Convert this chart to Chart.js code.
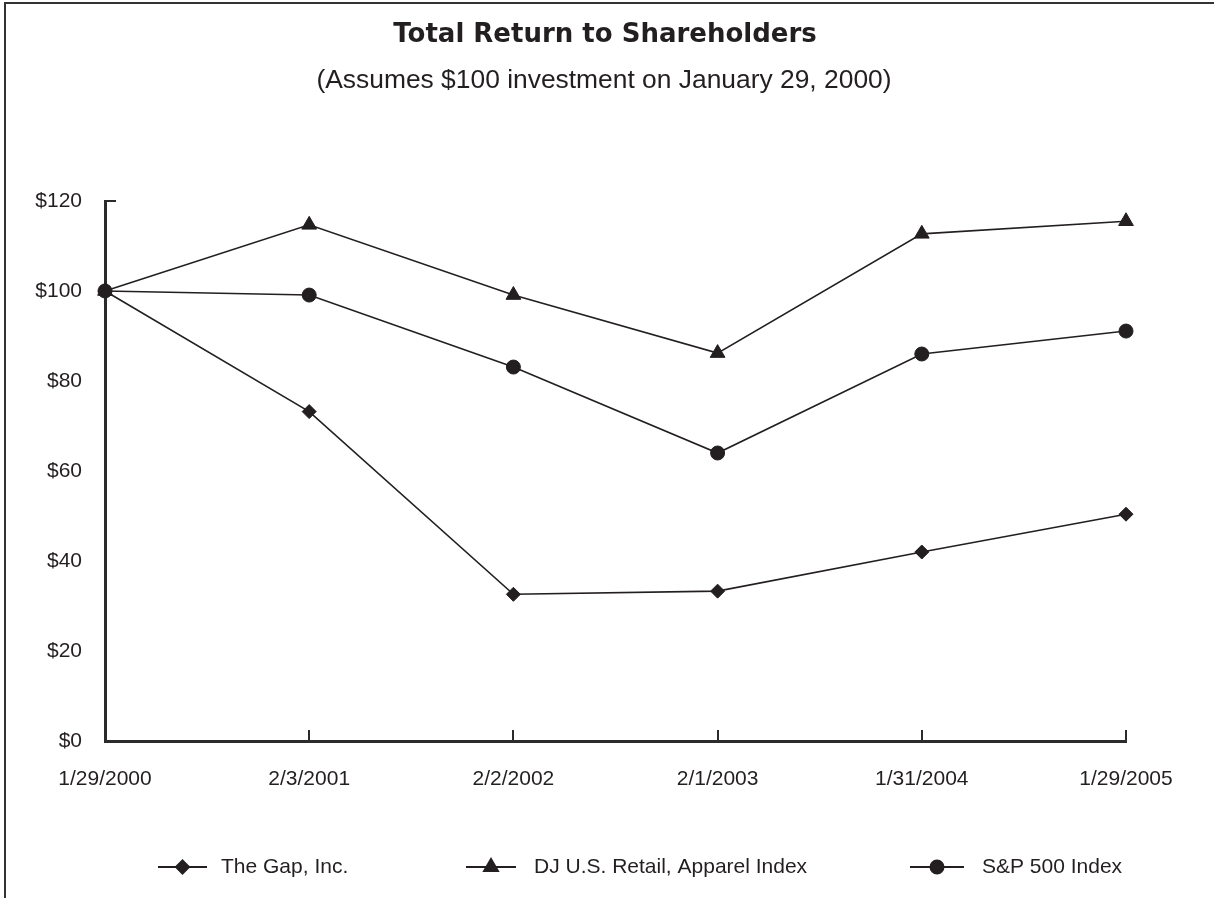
<!DOCTYPE html>
<html>
<head>
<meta charset="utf-8">
<script src="https://cdn.jsdelivr.net/npm/chart.js@4.4.0/dist/chart.umd.min.js"></script>
<style>
    html, body { margin: 0; padding: 0; background: #fff; }
    #wrap { position: relative; width: 1214px; height: 898px; }
</style>
</head>
<body>
<div id="wrap"><canvas id="returnChart" width="1214" height="898"></canvas></div>
<script>
// data
const dates = ["1/29/2000", "2/3/2001", "2/2/2002", "2/1/2003", "1/31/2004", "1/29/2005"];
const gapValues = [100, 73.2, 32.6, 33.3, 42.0, 50.4];
const djRetailValues = [100, 114.7, 99.1, 86.2, 112.7, 115.5];
const sp500Values = [100, 99.1, 83.1, 64.0, 86.0, 91.1];
const seriesNames = ["The Gap, Inc.", "DJ U.S. Retail, Apparel Index", "S&P 500 Index"];
const yTickStep = 20;
const yMax = 120;

const INK = "#231f20";
const AXIS = "#2b2b2b";
const FONT = "'Liberation Sans', Arial, sans-serif";

const series = [
    { label: seriesNames[0], data: gapValues,      pointStyle: "rectRot",  pointRadius: 7 },
    { label: seriesNames[1], data: djRetailValues, pointStyle: "triangle", pointRadius: 8.5 },
    { label: seriesNames[2], data: sp500Values,    pointStyle: "circle",   pointRadius: 7 }
];

// frame, titles, inward ticks, legend
const decorPlugin = {
    id: "decor",
    beforeDraw(chart) {
        const ctx = chart.ctx;
        ctx.save();
        ctx.fillStyle = "#fff";
        ctx.fillRect(0, 0, chart.width, chart.height);
        ctx.strokeStyle = "#333";
        ctx.lineWidth = 2;
        ctx.beginPath();
        ctx.moveTo(5, chart.height);
        ctx.lineTo(5, 3);
        ctx.lineTo(chart.width, 3);
        ctx.stroke();

        ctx.fillStyle = INK;
        ctx.textAlign = "center";
        ctx.textBaseline = "middle";
        ctx.font = `bold 26px 'DejaVu Sans', sans-serif`;
        ctx.fillText("Total Return to Shareholders", 605, 35);
        ctx.font = `26.4px ${FONT}`;
        ctx.fillText("(Assumes $100 investment on January 29, 2000)", 604, 81);
        ctx.restore();
    },
    afterDraw(chart) {
        const ctx = chart.ctx;
        const x = chart.scales.x, y = chart.scales.y;
        const area = chart.chartArea;
        ctx.save();
        ctx.strokeStyle = AXIS;
        ctx.lineWidth = 2;
        ctx.beginPath();
        for (let i = 1; i < dates.length; i++) {
            const px = Math.round(x.getPixelForTick(i));
            ctx.moveTo(px, area.bottom);
            ctx.lineTo(px, area.bottom - 11);
        }
        const top = y.getPixelForValue(yMax);
        ctx.moveTo(area.left, top);
        ctx.lineTo(area.left + 11, top);
        ctx.stroke();

        // legend
        const legendY = 867;
        const items = [
            { x0: 158, x1: 207, text: 221 },
            { x0: 466, x1: 516, text: 534 },
            { x0: 910, x1: 964, text: 982 }
        ];
        ctx.font = `21px ${FONT}`;
        ctx.textAlign = "left";
        ctx.textBaseline = "middle";
        items.forEach((it, i) => {
            const ds = chart.data.datasets[i];
            ctx.strokeStyle = INK;
            ctx.lineWidth = 2;
            ctx.beginPath();
            ctx.moveTo(it.x0, legendY);
            ctx.lineTo(it.x1, legendY);
            ctx.stroke();
            ctx.fillStyle = INK;
            Chart.helpers.drawPoint(ctx, {
                pointStyle: ds.pointStyle,
                radius: ds.pointRadius - 0.5,
                rotation: 0,
                borderWidth: 1
            }, (it.x0 + it.x1) / 2, legendY);
            ctx.fillStyle = INK;
            ctx.fillText(ds.label, it.text, legendY);
        });
        ctx.restore();
    }
};

new Chart(document.getElementById("returnChart"), {
    type: "line",
    data: {
        labels: dates,
        datasets: series.map(s => ({
            label: s.label,
            data: s.data,
            borderColor: INK,
            backgroundColor: INK,
            borderWidth: 1.6,
            pointStyle: s.pointStyle,
            pointRadius: s.pointRadius,
            pointBorderWidth: 1,
            pointBorderColor: INK,
            pointBackgroundColor: INK,
            tension: 0,
            clip: false
        }))
    },
    options: {
        responsive: false,
        devicePixelRatio: 1,
        animation: false,
        layout: { padding: { top: 201, right: 88, bottom: 0, left: 0 } },
        plugins: {
            legend: { display: false },
            title: { display: false },
            tooltip: { enabled: false }
        },
        scales: {
            x: {
                type: "category",
                offset: false,
                grid: { display: false, drawTicks: false },
                border: { color: AXIS, width: 3 },
                ticks: {
                    color: INK,
                    font: { family: FONT, size: 21 },
                    padding: 26,
                    maxRotation: 0,
                    autoSkip: false
                },
                afterFit(scale) {
                    scale.height = 157;
                    scale.paddingLeft = 0;
                    scale.paddingRight = 0;
                }
            },
            y: {
                min: 0,
                max: yMax,
                grid: { display: false, drawTicks: false },
                border: { color: AXIS, width: 3 },
                ticks: {
                    stepSize: yTickStep,
                    color: INK,
                    font: { family: FONT, size: 21 },
                    padding: 23,
                    callback: v => "$" + v
                },
                afterFit(scale) {
                    scale.width = 105;
                    scale.paddingTop = 0;
                    scale.paddingBottom = 0;
                }
            }
        }
    },
    plugins: [decorPlugin]
});
</script>
</body>
</html>
